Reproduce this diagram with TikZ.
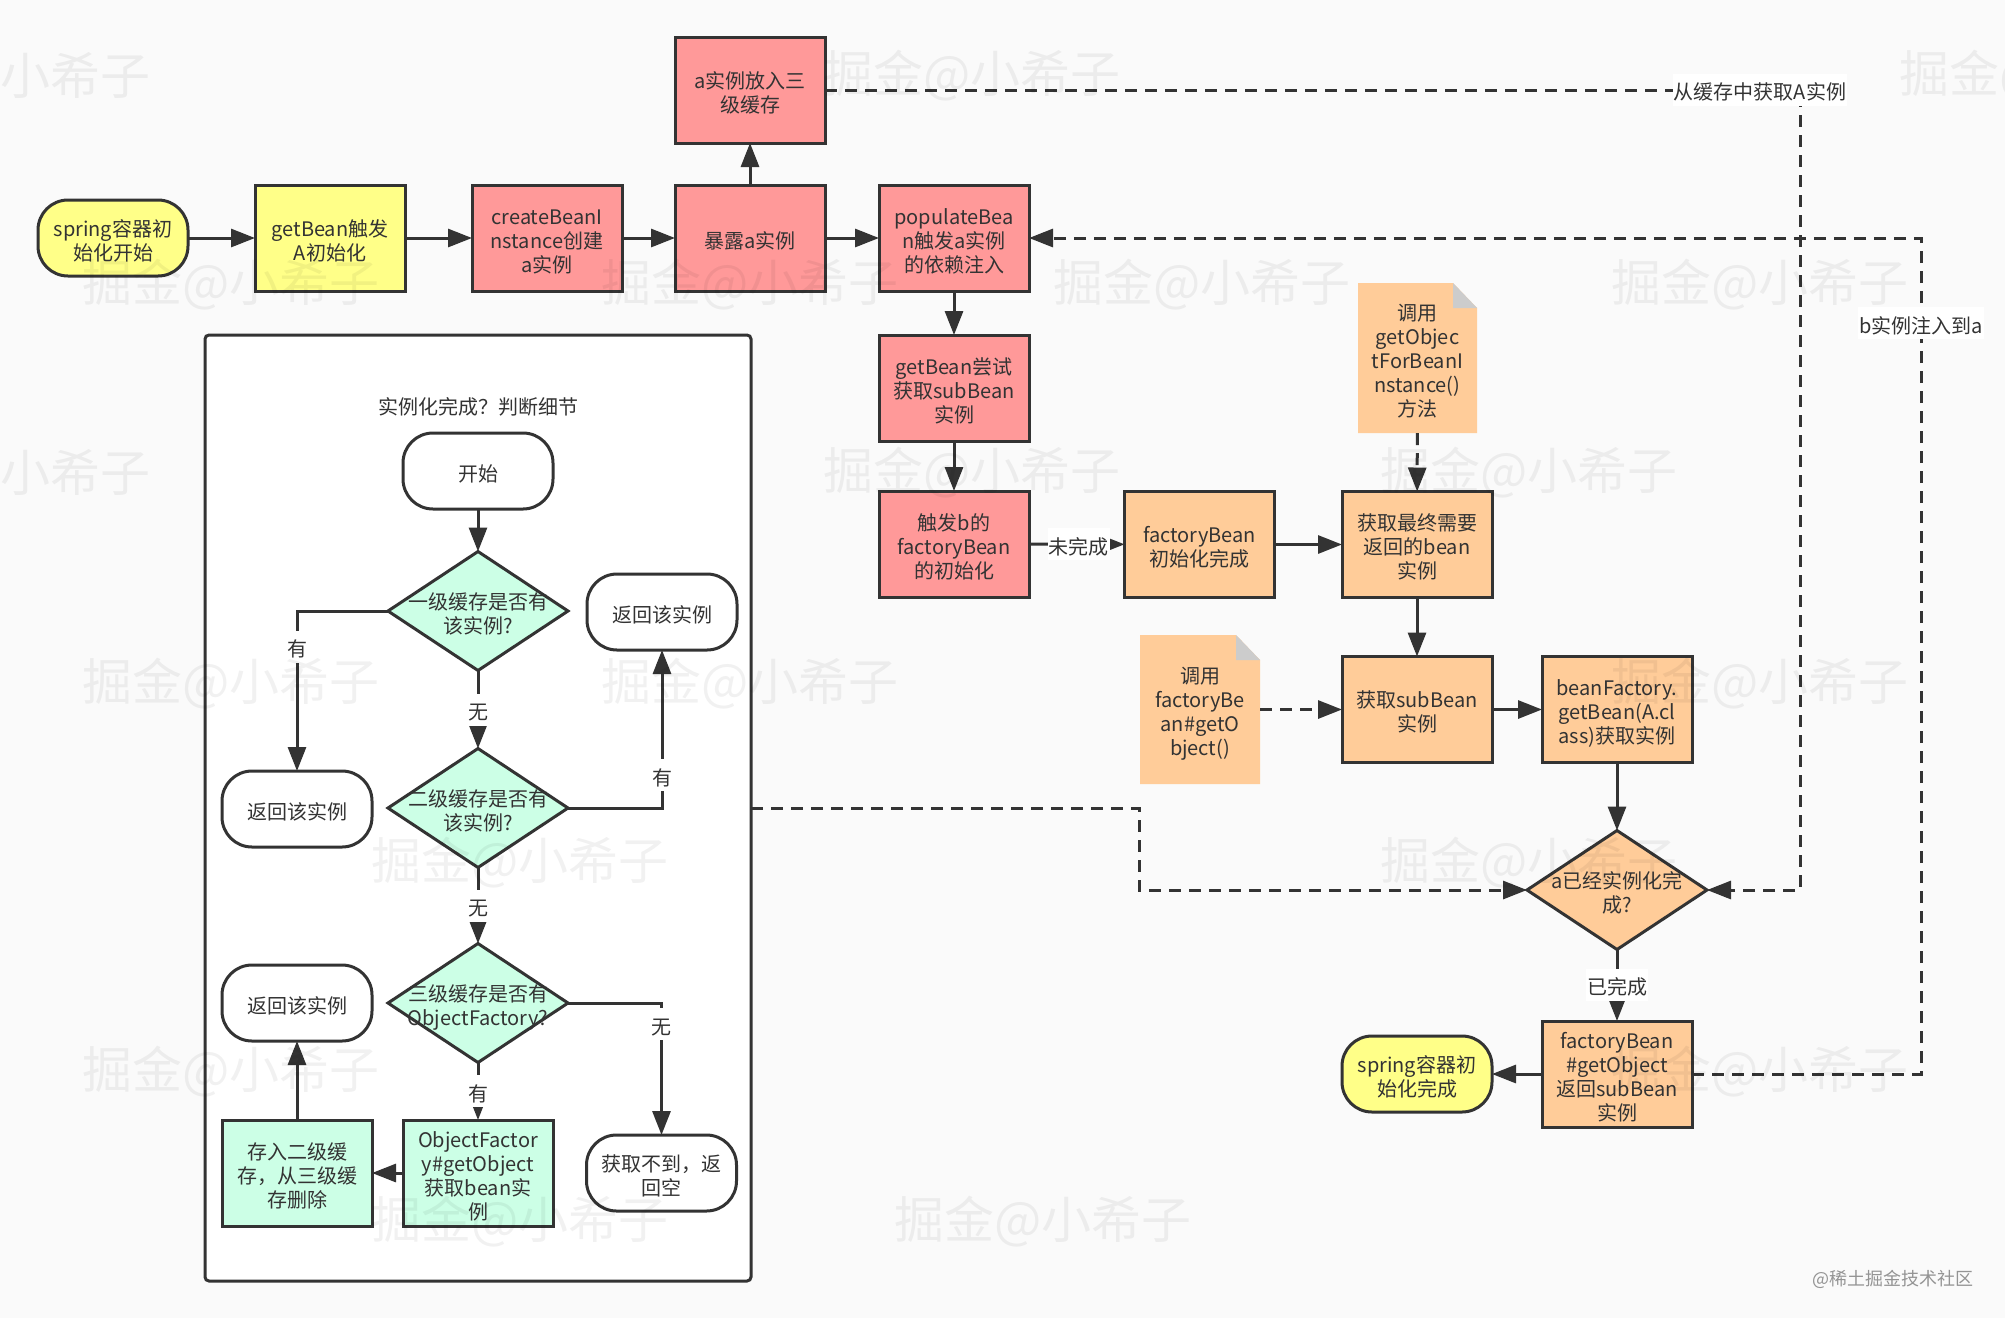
\documentclass[tikz,border=0pt]{standalone}
\usepackage{fontspec}
\setmainfont{Noto Sans CJK SC}
\usetikzlibrary{arrows.meta,shapes.geometric,calc}
\definecolor{bgc}{HTML}{FAFAFA}
\definecolor{ink}{HTML}{333333}
\definecolor{yel}{HTML}{FFFF88}
\definecolor{redb}{HTML}{FF9999}
\definecolor{org}{HTML}{FFCC99}
\definecolor{grn}{HTML}{CCFFE6}
\definecolor{foldc}{HTML}{CCCCCC}
\definecolor{txtc}{HTML}{333333}
\newcommand{\FL}{\rule{0pt}{25pt}}
\newcommand{\LL}{\rule[-5pt]{0pt}{5pt}}
\tikzset{
  x=1pt,y=-1pt,
  every node/.style={font=\fontsize{20}{24}\selectfont,text=txtc,align=center,inner sep=0pt,outer sep=0pt,
    execute at begin node={\rule[-5pt]{0pt}{30pt}}},
  boxb/.style={draw=ink,line width=3pt,rectangle,minimum width=150pt,minimum height=106pt},
  termb/.style={draw=ink,line width=3pt,rectangle,rounded corners=30pt,minimum width=150pt,minimum height=76pt},
  diab/.style={draw=ink,line width=3pt,diamond,aspect=1.5,minimum width=180pt,minimum height=119pt},
  arr/.style={draw=ink,line width=3pt,-{Triangle[length=24pt,width=18pt]}},
  darr/.style={arr,dash pattern=on 12pt off 8pt},
  lab/.style={fill=white,inner sep=1pt,execute at begin node={}},
  noteb/.style={rectangle,minimum width=120pt,minimum height=150pt},
  wm/.style={font=\fontsize{50}{50}\selectfont,text=black,text opacity=0.055,execute at begin node={}},
}
\newcommand{\notepaper}[4]{%
  \fill[org] (#1,#2) -- (#3-24,#2) -- (#3,#2+25) -- (#3,#4) -- (#1,#4) -- cycle;
  \fill[foldc] (#3-24,#2) -- (#3,#2+25) -- (#3-24,#2+25) -- cycle;
}
\begin{document}
\begin{tikzpicture}
\useasboundingbox (0,0) rectangle (2005,1318);
\fill[bgc] (0,0) rectangle (2005,1318);

% container
\node[draw=ink,line width=3pt,fill=white,rounded corners=4pt,minimum width=546pt,minimum height=946pt] (outer) at (478,808) {};
\node (title) at (478,404) {实例化完成？判断细节};

% top row
\node[termb,fill=yel] (start) at (113,238) {\FL spring容器初\\始化开始\LL};
\node[boxb,fill=yel] (getb) at (330,238) {\FL getBean触发\\A初始化\LL};
\node[boxb,fill=redb] (create) at (547,238) {\FL createBeanI\\nstance创建\\a实例\LL};
\node[boxb,fill=redb] (expose) at (750,238) {暴露a实例};
\node[boxb,fill=redb] (athree) at (750,90) {\FL a实例放入三\\级缓存\LL};
\node[boxb,fill=redb] (pop) at (954,238) {\FL populateBea\\n触发a实例\\的依赖注入\LL};
\node[boxb,fill=redb] (tryb) at (954,388) {\FL getBean尝试\\获取subBean\\实例\LL};
\node[boxb,fill=redb] (trig) at (954,544) {\FL 触发b的\\factoryBean\\的初始化\LL};

% orange part
\node[boxb,fill=org] (fbinit) at (1199.5,544.5) {\FL factoryBean\\初始化完成\LL};
\node[boxb,fill=org] (fin) at (1417,544.5) {\FL 获取最终需要\\返回的bean\\实例\LL};
\node[boxb,fill=org] (subb) at (1417,709.5) {\FL 获取subBean\\实例\LL};
\node[boxb,fill=org] (bf) at (1617,709.5) {\FL beanFactory.\\getBean(A.cl\\ass)获取实例\LL};
\node[diab,fill=org,label={[name=dAtxt]center:\FL a已经实例化完\\成?\LL}] (dA) at (1617,890) {};
\node[boxb,fill=org] (res) at (1617,1074) {\FL factoryBean\\\#getObject\\返回subBean\\实例\LL};
\node[termb,fill=yel] (fine) at (1417,1074) {\FL spring容器初\\始化完成\LL};

% notes
\notepaper{1358}{283}{1477}{433}
\node[noteb] (noteA) at (1417.5,358) {\FL 调用\\getObjec\\tForBeanI\\nstance()\\方法\LL};
\notepaper{1140}{635}{1260}{784}
\node[noteb] (noteB) at (1200,709.5) {\FL 调用\\factoryBe\\an\#getO\\bject()\LL};

% inner flow
\node[termb,fill=white] (ibegin) at (478,471) {开始};
\node[diab,fill=grn,label={[name=d1txt]center:\FL 一级缓存是否有\\该实例?\LL}] (d1) at (478,611) {};
\node[diab,fill=grn,label={[name=d2txt]center:\FL 二级缓存是否有\\该实例?\LL}] (d2) at (478,808) {};
\node[diab,fill=grn,label={[name=d3txt]center:\FL 三级缓存是否有\\ObjectFactory?\LL}] (d3) at (478,1003) {};
\node[termb,fill=white] (ra) at (662,612) {返回该实例};
\node[termb,fill=white] (rb) at (297,809) {返回该实例};
\node[termb,fill=white] (rc) at (297,1003) {返回该实例};
\node[boxb,fill=grn] (store) at (297,1173) {\FL 存入二级缓\\存，从三级缓\\存删除\LL};
\node[boxb,fill=grn] (ofac) at (478,1173) {\FL ObjectFactor\\y\#getObject\\获取bean实\\例\LL};
\node[termb,fill=white] (none) at (661.5,1173) {\FL 获取不到，返\\回空\LL};

% helper corners
\coordinate (vA) at (1800,890);
\coordinate (vB) at (1921,238);
\coordinate (vC) at (1139,890);

% solid connectors
\draw[arr] (start) -- (getb);
\draw[arr] (getb) -- (create);
\draw[arr] (create) -- (expose);
\draw[arr] (expose) -- (athree);
\draw[arr] (expose) -- (pop);
\draw[arr] (pop) -- (tryb);
\draw[arr] (tryb) -- (trig);
\draw[arr] (trig) -- node[lab,pos=.52] (lwei) {未完成} (fbinit);
\draw[arr] (fbinit) -- (fin);
\draw[arr] (fin) -- (subb);
\draw[arr] (subb) -- (bf);
\draw[arr] (bf) -- (dA);
\draw[arr] (dA) -- node[lab,pos=.49] (lyi) {已完成} (res);
\draw[arr] (res) -- (fine);
\draw[arr] (ibegin) -- (d1);
\draw[arr] (d1) -- node[lab,pos=.5] (lw1) {无} (d2);
\draw[arr] (d2) -- node[lab,pos=.5] (lw2) {无} (d3);
\draw[arr] (d3) -- node[lab,pos=.5] (ly3) {有} (ofac);
\draw[arr] (d1.west) -| node[lab,pos=.611] (ly1) {有} (rb.north);
\draw[arr] (d2.east) -| node[lab,pos=.603] (ly2) {有} (ra.south);
\draw[arr] (d3.east) -| node[lab,pos=.58] (lw3) {无} (none.north);
\draw[arr] (ofac) -- (store);
\draw[arr] (store) -- (rc);

% dashed connectors
\draw[darr] (noteA) -- (fin);
\draw[darr] (noteB) -- (subb);
\draw[darr] (athree.east) -| node[lab,pos=.4795,yshift=.5pt] (lcache) {从缓存中获取A实例} (vA) -- (dA.east);
\draw[darr] (res.east) -| node[lab,pos=.949] (linj) {b实例注入到a} (vB) -- (pop.east);
\draw[darr] (outer.east) -| (vC) -- (dA.west);

% watermarks
\begin{scope}
\clip (0,0) rectangle (2005,1318);
\foreach \i/\px/\py in {1/76/76,2/76/473}
  \node[wm] (wa\i) at (\px,\py) {小希子};
\foreach \i/\px/\py in {1/972/76,2/2048/76,3/231/285,4/750/285,5/1202/285,6/1760/285,
  7/972/473,8/1529/473,9/231/684,10/750/684,11/1760/684,12/520/863,13/1529/863,
  14/231/1072,15/1760/1072,16/520/1222,17/1043/1222}
  \node[wm] (wb\i) at (\px,\py) {掘金@小希子};
\end{scope}
\node[font=\fontsize{18}{20}\selectfont,text=black!42,execute at begin node={}] (credit) at (1893,1275) {@稀土掘金技术社区};
\end{tikzpicture}
\end{document}
